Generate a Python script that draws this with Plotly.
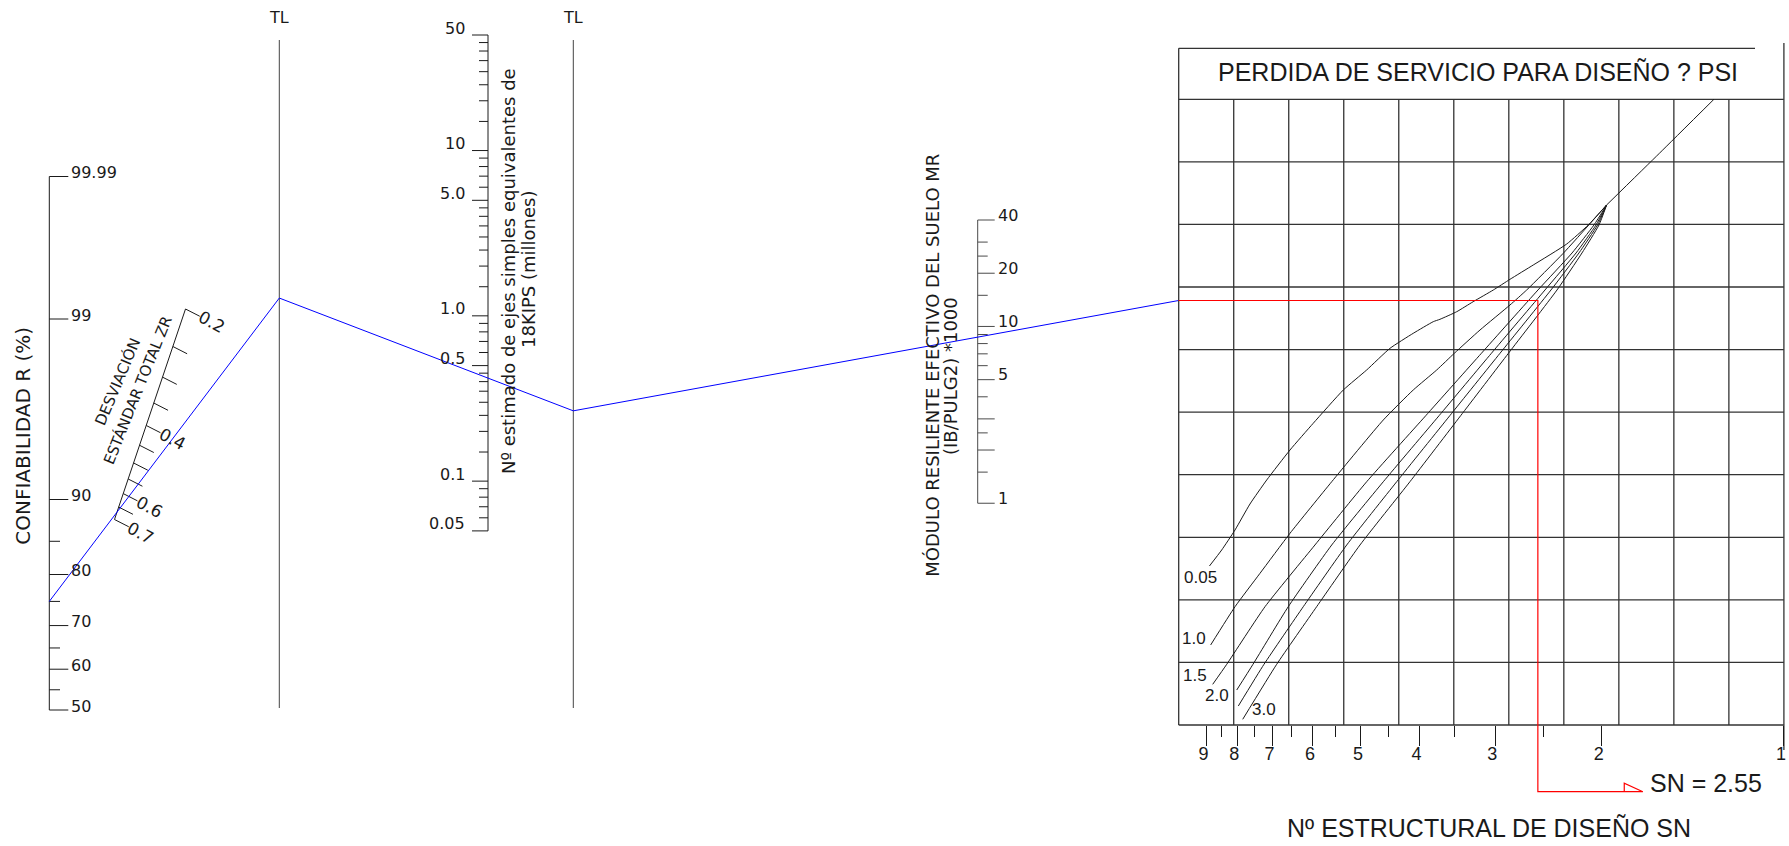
import numpy as np
import plotly.graph_objects as go
from statistics import NormalDist

# ---------------------------------------------------------------- values
rel_major = [50, 60, 70, 80, 90, 99, 99.99]
rel_major_text = ["50", "60", "70", "80", "90", "99", "99.99"]
rel_minor = [55, 65, 75, 85]

s0_ticks = [0.20, 0.25, 0.30, 0.35, 0.40, 0.45, 0.50, 0.55, 0.60, 0.65, 0.70]
s0_labels = [0.2, 0.4, 0.6, 0.7]
s0_label_text = ["0.2", "0.4", "0.6", "0.7"]

esal_major = [50, 10, 5, 1, 0.5, 0.1, 0.05]
esal_major_text = ["50", "10", "5.0", "1.0", "0.5", "0.1", "0.05"]
esal_minor_steps = [1.5, 2, 2.5, 3, 3.5, 4, 4.5, 6, 7, 8, 9]

mr_major = [40, 20, 10, 5, 1]
mr_major_text = ["40", "20", "10", "5", "1"]
mr_long = [3, 2]
mr_minor = [30, 25, 15, 9, 8, 7, 6, 4, 2.5, 1.5]

sn_major = [1, 2, 3, 4, 5, 6, 7, 8, 9]
sn_minor = [2.5, 3.5, 4.5, 5.5, 6.5, 7.5, 8.5]

# design curves: structural number SN and chart row (0 = bottom rule, 10 = top rule)
dpsi_text = ["0.05", "1.0", "1.5", "2.0", "2.5", "3.0"]
curve_sn = [
    [8.896, 8.491, 8.071, 7.625, 7.154, 6.548, 5.994, 5.346, 4.891, 4.476, 4.097,
     3.796, 3.701, 3.473, 3.262, 3.021, 2.835, 2.595, 2.285, 2.105, 1.963],
    [8.855, 8.071, 7.340, 6.548, 5.587, 4.591, 4.097, 3.747, 3.504, 3.178, 2.835,
     2.661, 2.315, 1.963],
    [8.787, 8.330, 7.201, 5.955, 4.891, 3.907, 3.161, 2.549, 2.239, 2.060, 1.963],
    [8.019, 7.538, 6.591, 5.587, 4.591, 3.714, 3.043, 2.482, 2.205, 2.044, 1.963],
    [7.970, 7.229, 6.225, 5.277, 4.363, 3.565, 2.945, 2.426, 2.181, 2.032, 1.963],
    [7.838, 6.888, 5.916, 5.017, 4.149, 3.421, 2.852, 2.371, 2.156, 2.021, 1.963],
]
curve_row = [
    [2.541, 2.797, 3.117, 3.532, 3.916, 4.395, 4.822, 5.354, 5.674, 6.020, 6.260,
     6.446, 6.484, 6.605, 6.765, 6.952, 7.123, 7.352, 7.687, 7.991, 8.311],
    [1.279, 1.891, 2.424, 3.064, 3.888, 4.875, 5.354, 5.674, 5.941, 6.313, 6.713,
     6.952, 7.539, 8.311],
    [0.650, 0.970, 1.891, 2.877, 3.888, 4.943, 5.941, 6.952, 7.544, 7.991, 8.311],
    [0.559, 0.970, 1.891, 2.877, 3.888, 4.943, 5.941, 6.952, 7.544, 7.991, 8.311],
    [0.304, 0.970, 1.891, 2.877, 3.888, 4.943, 5.941, 6.952, 7.544, 7.991, 8.311],
    [0.091, 0.970, 1.891, 2.877, 3.888, 4.943, 5.941, 6.952, 7.544, 7.991, 8.311],
]
pivot_sn = [1.963, 1.606, 1.305]
pivot_row = [8.311, 9.137, 10.0]

# design case
design_R = 75
design_S0 = 0.67
design_W18 = 0.42
design_MR = 8.7
design_SN = 2.55

# ---------------------------------------------------------------- styling / geometry
W, H = 1789, 846
INK = "#1a1a1a"
GRID = "#333333"
BLUE = "#0000ff"
RED = "#ff0000"
F_LEFT = "DejaVu Sans"
F_REG = "Liberation Sans, Arial, sans-serif"

# reliability scale (normal-deviate spacing)
R_X = 49.3
REL_ANCHOR_R = [50, 80, 90, 99, 99.99]
REL_ANCHOR_Y = [710.0, 574.5, 499.5, 319.0, 176.5]
_nd = NormalDist()
_za = [_nd.inv_cdf(a / 100) for a in REL_ANCHOR_R]


def rel_y(r):
    return float(np.interp(_nd.inv_cdf(r / 100), _za, REL_ANCHOR_Y))


# standard deviation scale (logarithmic, along a slanted line)
S0_TOP = (185.5, 309.0)
S0_BOT = (114.5, 519.5)
S0_MIN, S0_MAX = 0.2, 0.7
TICK_DIR = (np.cos(np.radians(27)), np.sin(np.radians(27)))


def s0_pt(s):
    t = np.log(s / S0_MIN) / np.log(S0_MAX / S0_MIN)
    return (S0_TOP[0] + t * (S0_BOT[0] - S0_TOP[0]),
            S0_TOP[1] + t * (S0_BOT[1] - S0_TOP[1]))


# traffic scale (log)
ESAL_X = 488.0


def esal_y(w):
    return 35.0 + 165.3 * np.log10(50.0 / w)


# resilient modulus scale (log)
MR_X = 977.7


def mr_y(m):
    return 220.0 + 176.8 * np.log10(40.0 / m)


TL1_X, TL2_X = 279.3, 573.3
TL_Y0, TL_Y1 = 40.0, 708.0

# design chart frame
CH_L, CH_R = 1178.7, 1783.9
CH_B, CH_T = 725.0, 99.3
TITLE_T = 48.3
DEC = CH_R - CH_L              # pixels per SN decade
ROW = (CH_B - CH_T) / 10.0     # pixels per chart row
X2_START = 1170.0


def px_row(y):
    return (CH_B - y) / ROW


def px_sn(x):
    return 10 ** ((CH_R - x) / DEC)


def sn_px(sn):
    return CH_R - DEC * np.log10(sn)


# ---------------------------------------------------------------- figure
fig = go.Figure()


def seg_trace(segs, color=INK, width=1.0, xaxis="x", yaxis="y"):
    xs, ys = [], []
    for (x0, y0, x1, y1) in segs:
        xs += [x0, x1, None]
        ys += [y0, y1, None]
    fig.add_trace(go.Scatter(x=xs, y=ys, mode="lines", xaxis=xaxis, yaxis=yaxis,
                             line=dict(color=color, width=width),
                             hoverinfo="skip", showlegend=False))


annotations = []


def label(x, y, text, size, family=F_LEFT, xanchor="center", angle=0,
          xref="x", yref="y", color=INK, xshift=0, yshift=0):
    annotations.append(dict(x=x, y=y, text=text, xref=xref, yref=yref,
                            showarrow=False, xanchor=xanchor, yanchor="middle",
                            textangle=angle, xshift=xshift, yshift=yshift,
                            font=dict(family=family, size=size, color=color)))


# reliability axis
segs = [(R_X, rel_y(min(rel_major)), R_X, rel_y(max(rel_major)))]
segs += [(R_X, rel_y(v), R_X + 19, rel_y(v)) for v in rel_major]
segs += [(R_X, rel_y(v), R_X + 10.7, rel_y(v)) for v in rel_minor]
seg_trace(segs)
for v, t in zip(rel_major, rel_major_text):
    label(R_X + 19.5, rel_y(v) - 4, t, 16, xanchor="left")
label(22.7, 436, "CONFIABILIDAD R (%)", 20, angle=-90)

# standard deviation scale
p_top, p_bot = s0_pt(S0_MIN), s0_pt(S0_MAX)
segs = [(p_top[0], p_top[1], p_bot[0], p_bot[1])]
for s in s0_ticks:
    px, py = s0_pt(s)
    segs.append((px, py, px + 16 * TICK_DIR[0], py + 16 * TICK_DIR[1]))
seg_trace(segs)
for s, t in zip(s0_labels, s0_label_text):
    px, py = s0_pt(s)
    label(px + 29.5 * TICK_DIR[0], py + 29.5 * TICK_DIR[1], t, 17, angle=28)
label(117.5, 381.7, "DESVIACIÓN", 15, angle=-67)
label(137.5, 390.8, "ESTÁNDAR TOTAL ZR", 15, angle=-68)

# turning lines
seg_trace([(TL1_X, TL_Y0, TL1_X, TL_Y1), (TL2_X, TL_Y0, TL2_X, TL_Y1)], color="#444444")
label(TL1_X, 17, "TL", 16)
label(TL2_X, 17, "TL", 16)

# traffic axis
esal_minor = sorted({round(m * 10 ** d, 4) for d in range(-2, 2) for m in esal_minor_steps
                     if 0.05 <= m * 10 ** d <= 50})
segs = [(ESAL_X, esal_y(50), ESAL_X, esal_y(0.05))]
segs += [(ESAL_X - 16, esal_y(v), ESAL_X, esal_y(v)) for v in esal_major]
segs += [(ESAL_X - 9, esal_y(v), ESAL_X, esal_y(v)) for v in esal_minor]
seg_trace(segs)
for v, t in zip(esal_major, esal_major_text):
    label(ESAL_X - 21, esal_y(v) - 7, t, 16, xanchor="right")
label(508, 271, "Nº estimado de ejes simples equivalentes de", 18, angle=-90)
label(528, 270, "18KIPS (millones)", 18, angle=-90)

# resilient modulus axis
segs = [(MR_X, mr_y(40), MR_X, mr_y(1))]
segs += [(MR_X, mr_y(v), MR_X + 17, mr_y(v)) for v in mr_major + mr_long]
segs += [(MR_X, mr_y(v), MR_X + 10, mr_y(v)) for v in mr_minor]
seg_trace(segs, color="#4a4a4a")
for v, t in zip(mr_major, mr_major_text):
    label(MR_X + 18, mr_y(v) - 5, t, 16, xanchor="left")
label(931.7, 365, "MÓDULO RESILIENTE EFECTIVO DEL SUELO MR", 18, angle=-90)
label(950, 376, "(IB/PULG2) *1000", 18, angle=-90)


# design path through the nomograph
def at_x(p, q, x):
    return p[1] + (q[1] - p[1]) * (x - p[0]) / (q[0] - p[0])


pR = (R_X, rel_y(design_R))
pS = s0_pt(design_S0)
pT1 = (TL1_X, at_x(pR, pS, TL1_X))
pW = (ESAL_X, esal_y(design_W18))
pT2 = (TL2_X, at_x(pT1, pW, TL2_X))
pM = (MR_X, mr_y(design_MR))
pC = (CH_L, at_x(pT2, pM, CH_L))
design_row = px_row(pC[1])
fig.add_trace(go.Scatter(x=[pR[0], pT1[0], pT2[0], pC[0]], y=[pR[1], pT1[1], pT2[1], pC[1]],
                         mode="lines", line=dict(color=BLUE, width=1),
                         hoverinfo="skip", showlegend=False))

# ---------------------------------------------------------------- design chart (SN log axis)
X2 = dict(xaxis="x2", yaxis="y2")
segs = [(10, r, 1, r) for r in range(0, 11)]
segs += [(10 ** (1 - k / 11), 0, 10 ** (1 - k / 11), 10) for k in range(1, 11)]
seg_trace(segs, color=GRID, width=1.3, **X2)
title_row = px_row(TITLE_T)
seg_trace([(10, 0, 10, title_row),
           (10, title_row, px_sn(1755), title_row),
           (1, px_row(43), 1, px_row(750))], color=GRID, width=1.3, **X2)

for sn, rw in zip(curve_sn, curve_row):
    fig.add_trace(go.Scatter(x=sn, y=rw, mode="lines", xaxis="x2", yaxis="y2",
                             line=dict(color=INK, width=1, shape="spline", smoothing=0.5),
                             hoverinfo="skip", showlegend=False))
fig.add_trace(go.Scatter(x=pivot_sn, y=pivot_row, mode="lines", xaxis="x2", yaxis="y2",
                         line=dict(color=INK, width=1, shape="spline", smoothing=0.5),
                         hoverinfo="skip", showlegend=False))

label_shift = {0: (-9, -11), 1: (-17, 6), 2: (-18, 9), 3: (-20, -5), 5: (21, 10)}
for i, (dx, dy) in label_shift.items():
    label(np.log10(curve_sn[i][0]), curve_row[i][0], dpsi_text[i], 17, family=F_REG,
          xref="x2", yref="y2", xshift=dx, yshift=dy)

# reading of the structural number
row_low = px_row(791.7)
tip_x = sn_px(design_SN) + 105
sn_tip = px_sn(tip_x)
sn_back = px_sn(tip_x - 18.6)
row_head = px_row(791.7 - 8.4)
fig.add_trace(go.Scatter(
    x=[10, design_SN, design_SN, sn_tip, sn_back, sn_back],
    y=[design_row, design_row, row_low, row_low, row_head, row_low],
    mode="lines", xaxis="x2", yaxis="y2", line=dict(color=RED, width=1.2),
    hoverinfo="skip", showlegend=False))
label(tip_x + 5, 783.3, "SN = %.2f" % design_SN, 25, family=F_REG, xanchor="left")

label((CH_L + CH_R) / 2 - 3, 72, "PERDIDA DE SERVICIO PARA DISEÑO ? PSI", 25, family=F_REG)
label(1489, 828, "Nº ESTRUCTURAL DE DISEÑO SN", 25, family=F_REG)

fig.update_layout(
    width=W, height=H, margin=dict(l=0, r=0, t=0, b=0, pad=0),
    paper_bgcolor="white", plot_bgcolor="rgba(0,0,0,0)", showlegend=False,
    hovermode=False, annotations=annotations,
    xaxis=dict(range=[0, W], domain=[0, 1], visible=False, fixedrange=True),
    yaxis=dict(range=[H, 0], domain=[0, 1], visible=False, fixedrange=True),
    xaxis2=dict(type="log", domain=[X2_START / W, 1],
                range=[1 + (CH_L - X2_START) / DEC, -(W - CH_R) / DEC],
                anchor="free", position=(H - CH_B) / H,
                showgrid=False, zeroline=False, showline=False,
                tickmode="array", tickvals=sn_major, ticktext=[str(v) for v in sn_major],
                ticks="outside", ticklen=20, tickwidth=1, tickcolor=INK,
                ticklabelstandoff=-8, ticklabelshift=3,
                tickfont=dict(family=F_REG, size=18, color=INK),
                minor=dict(tickmode="array", tickvals=sn_minor, ticks="outside",
                           ticklen=11, tickwidth=1, tickcolor=INK, showgrid=False),
                fixedrange=True),
    yaxis2=dict(range=[(CH_B - H) / ROW, CH_B / ROW], domain=[0, 1], anchor="x2",
                visible=False, fixedrange=True),
)

fig.write_html("out.html")
